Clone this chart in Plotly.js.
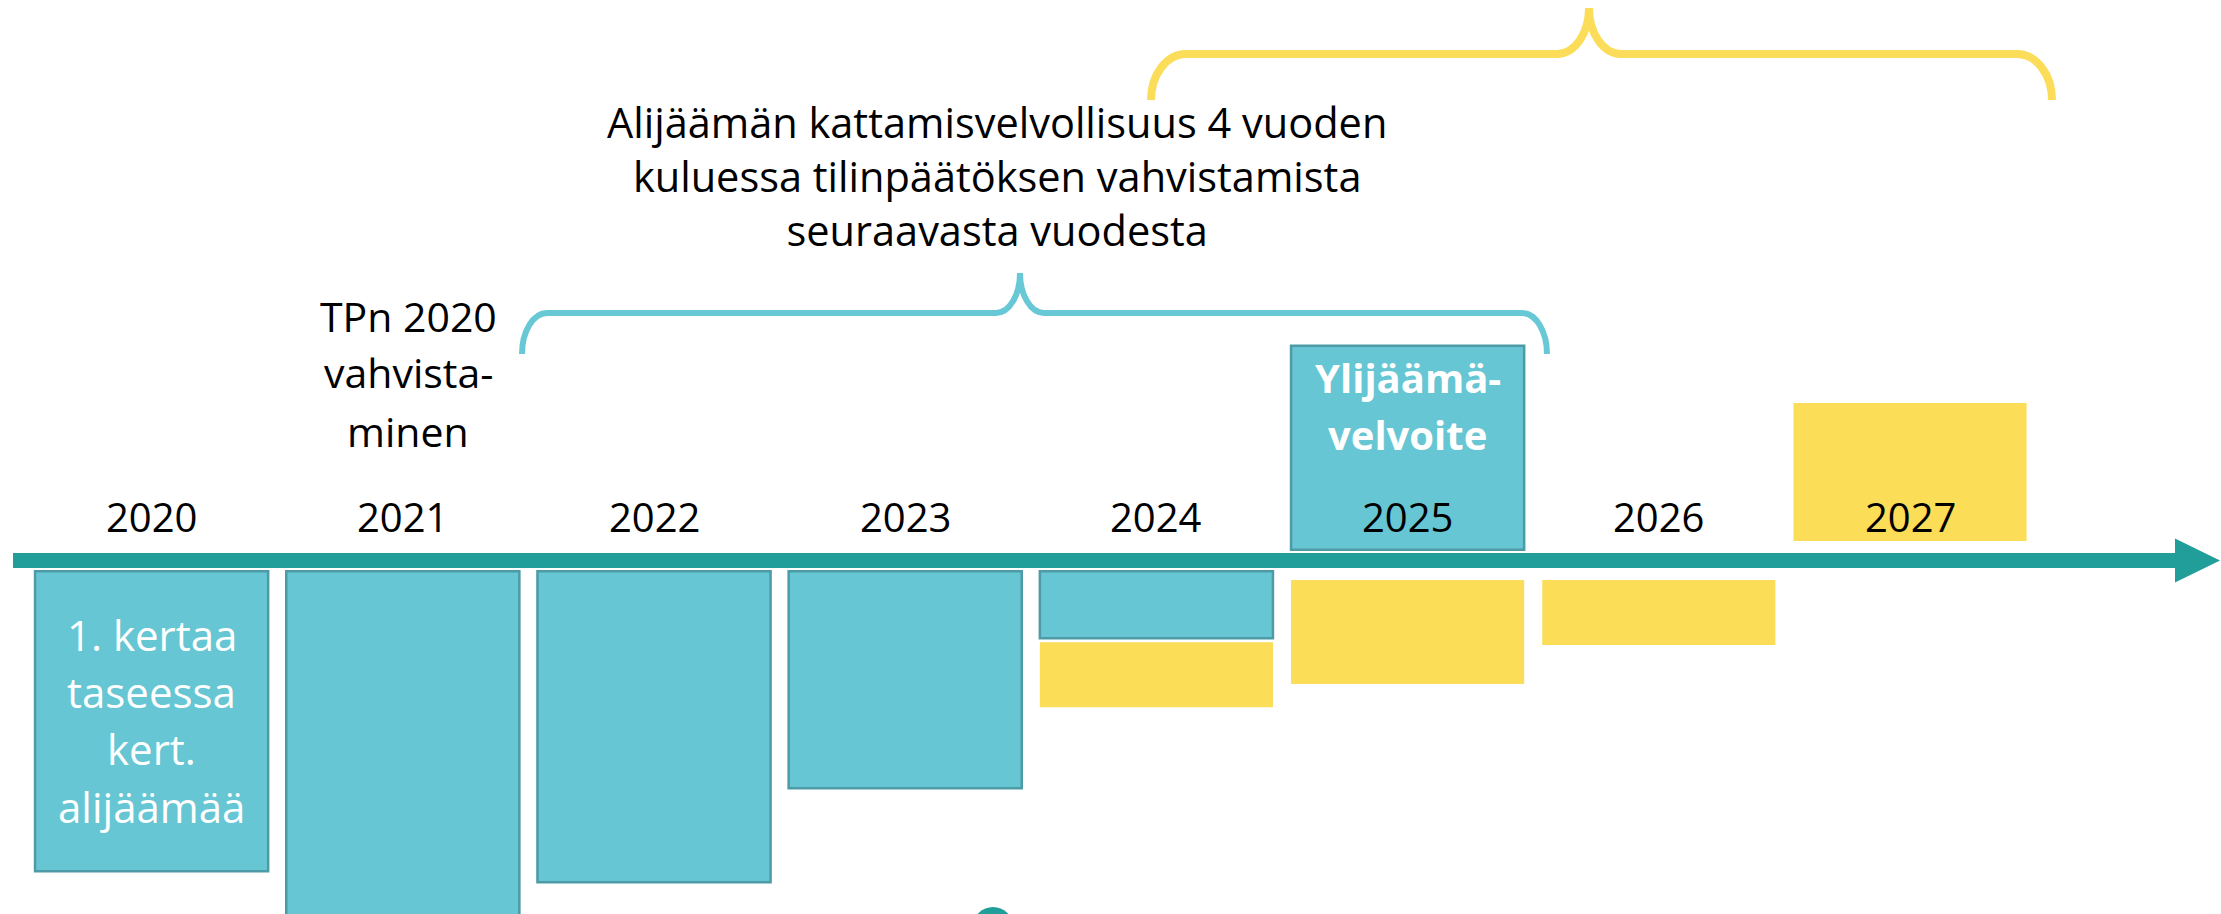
<!DOCTYPE html>
<html>
<head>
<meta charset="utf-8">
<script src="https://cdn.plot.ly/plotly-3.0.1.min.js"></script>
<style>
  html, body { margin: 0; padding: 0; background: #ffffff; }
  #chart { width: 2221px; height: 914px; }
</style>
</head>
<body>
<div id="chart"></div>
<script>
// ---------------- data ----------------
const years = [2020, 2021, 2022, 2023, 2024, 2025, 2026, 2027];
const yearLabels = ['2020', '2021', '2022', '2023', '2024', '2025', '2026', '2027'];
// teal boxes below the timeline: accumulated deficit (negative = below)
const deficit = [-30.0, -36.0, -31.1, -21.7, -6.7, null, null, null];
// teal box above the timeline: surplus obligation
const surplusObligation = [null, null, null, null, null, 20.4, null, null];
// yellow boxes: surplus covering the deficit (negative = below the line)
const coverage = [null, null, null, null, -6.5, -10.4, -6.5, 13.8];

const deficitBoxText = ['1. kertaa', 'taseessa', 'kert.', 'alijäämää'];
const obligationBoxText = ['Ylijäämä-', 'velvoite'];
const confirmText = ['TPn 2020', 'vahvista-', 'minen'];
const coverText = ['Alijäämän kattamisvelvollisuus 4 vuoden',
                   'kuluessa tilinpäätöksen vahvistamista',
                   'seuraavasta vuodesta'];

// ---------------- styles ----------------
const W = 2221, H = 914;
const TEAL = '#67C6D3', TEAL_EDGE = '#4C9BA6', AXIS = '#219E99', YELLOW = '#FBDD57';
const BRACE_CYAN = '#68C8D5', BRACE_YELLOW = '#FBDD5A';
const FONT = "'Open Sans', 'Noto Sans', sans-serif";
const TEAL_GAP = 1.08, YELLOW_GAP = 1.95, STACK_GAP = 0.4, BAR_W = 0.928;

// pixel helpers for decorations (margins are zero, so paper == plot area)
const px = v => v / W;
const py = v => 1 - v / H;

const tealBaseBelow = deficit.map(v => v == null ? null : -TEAL_GAP);
const tealBaseAbove = surplusObligation.map(v => v == null ? null : TEAL_GAP);
const yellowBase = coverage.map((v, i) => {
  if (v == null) return null;
  if (v > 0) return YELLOW_GAP;
  if (deficit[i] != null) return -TEAL_GAP + deficit[i] - STACK_GAP;
  return -YELLOW_GAP;
});

const barCommon = { type: 'bar', width: BAR_W, hoverinfo: 'skip', showlegend: false };
const traces = [
  Object.assign({}, barCommon, {
    name: 'Alijäämä', x: years, y: deficit, base: tealBaseBelow,
    marker: { color: TEAL, line: { color: TEAL_EDGE, width: 2.5 } }
  }),
  Object.assign({}, barCommon, {
    name: 'Ylijäämävelvoite', x: years, y: surplusObligation, base: tealBaseAbove,
    marker: { color: TEAL, line: { color: TEAL_EDGE, width: 2.5 } }
  }),
  Object.assign({}, barCommon, {
    name: 'Kattaminen', x: years, y: coverage, base: yellowBase,
    marker: { color: YELLOW, line: { width: 0 } }
  })
];

// curly brace path in pixel units -> paper
function bracePath(x0, xm, x1, yb, yh, yp, re, rm) {
  const k = 0.5523;
  const P = (x, y) => px(x).toFixed(5) + ',' + py(y).toFixed(5);
  return 'M' + P(x0, yb) +
    ' C' + P(x0, yb + k * (yh - yb)) + ' ' + P(x0 + re - k * re, yh) + ' ' + P(x0 + re, yh) +
    ' L' + P(xm - rm, yh) +
    ' C' + P(xm - rm + k * rm, yh) + ' ' + P(xm, yp - k * (yp - yh)) + ' ' + P(xm, yp) +
    ' C' + P(xm, yp - k * (yp - yh)) + ' ' + P(xm + rm - k * rm, yh) + ' ' + P(xm + rm, yh) +
    ' L' + P(x1 - re, yh) +
    ' C' + P(x1 - re + k * re, yh) + ' ' + P(x1, yb + k * (yh - yb)) + ' ' + P(x1, yb);
}

const shapes = [
  // timeline bar
  { type: 'rect', xref: 'paper', yref: 'paper', x0: px(13), x1: px(2178), y0: py(568), y1: py(553),
    fillcolor: AXIS, line: { width: 0 } },
  // arrow head
  { type: 'path', xref: 'paper', yref: 'paper',
    path: 'M' + px(2175) + ',' + py(538.5) + ' L' + px(2220) + ',' + py(560.5) + ' L' + px(2175) + ',' + py(582.5) + ' Z',
    fillcolor: AXIS, line: { width: 0 } },
  // braces
  { type: 'path', xref: 'paper', yref: 'paper', path: bracePath(522, 1020, 1547, 354, 313, 273, 25, 24),
    line: { color: BRACE_CYAN, width: 6 }, fillcolor: 'rgba(0,0,0,0)' },
  { type: 'path', xref: 'paper', yref: 'paper', path: bracePath(1151, 1589, 2052, 100, 54, 8, 35, 32),
    line: { color: BRACE_YELLOW, width: 8 }, fillcolor: 'rgba(0,0,0,0)' },
  // small circle at the bottom edge
  { type: 'circle', xref: 'paper', yref: 'paper', x0: px(973), x1: px(1013), y0: py(947), y1: py(907),
    fillcolor: AXIS, line: { width: 0 } }
];

const annotations = [];
function addText(text, x, xref, yPix, size, color, weight) {
  annotations.push({
    text: text, x: x, xref: xref, y: py(yPix), yref: 'paper',
    xanchor: 'center', yanchor: 'middle', showarrow: false,
    font: { family: FONT, size: size, color: color, weight: weight || 400 }
  });
}
// year labels above the timeline
yearLabels.forEach((t, i) => addText(t, years[i], 'x', 532 - 0.388 * 40, 40, '#000000'));
// text inside the first deficit box
deficitBoxText.forEach((t, i) => addText(t, years[0], 'x', [651, 708, 765, 823][i] - 0.388 * 42, 42, '#ffffff'));
// text inside the surplus-obligation box
obligationBoxText.forEach((t, i) => addText(t, years[5], 'x', [393, 450][i] - 0.388 * 40, 40, '#ffffff', 700));
// TPn 2020 vahvistaminen
confirmText.forEach((t, i) => addText(t, px(408), 'paper', [332, 388, 447][i] - 0.388 * 41, 41, '#000000'));
// cover text as one centred block
addText(coverText.join('<br>'), px(997), 'paper', 192 - 0.388 * 41.5, 41.5, '#000000');

const layout = {
  width: W, height: H,
  margin: { l: 0, r: 0, t: 0, b: 0, pad: 0 },
  paper_bgcolor: '#ffffff', plot_bgcolor: '#ffffff',
  showlegend: false, barmode: 'overlay',
  xaxis: { range: [2019.3965, 2028.238], visible: false, fixedrange: true },
  yaxis: { range: [-35.35, 56.05], visible: false, fixedrange: true },
  shapes: shapes,
  annotations: annotations
};

Plotly.newPlot('chart', traces, layout, { displayModeBar: false, staticPlot: true });
</script>
</body>
</html>
